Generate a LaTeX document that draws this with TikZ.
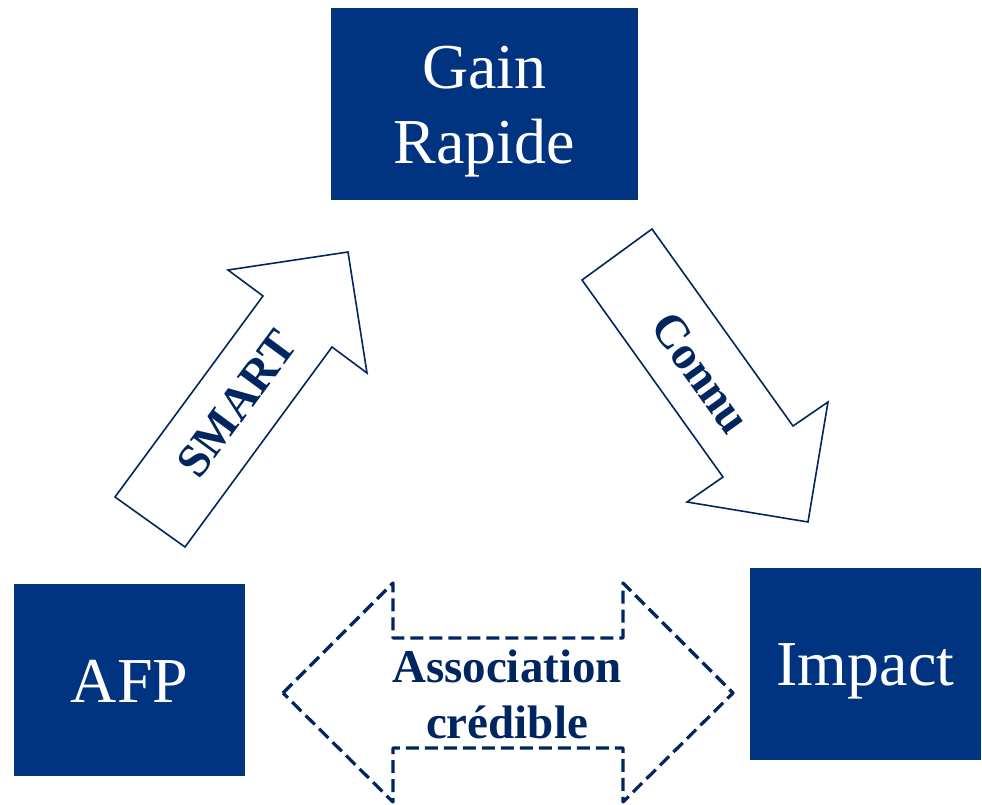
\documentclass[tikz,border=0pt]{standalone}
\usepackage{fontspec}
\setmainfont{Liberation Serif}
\usepackage{tikz}
\definecolor{boxblue}{RGB}{0,51,128}
\definecolor{inkblue}{RGB}{0,38,96}

\begin{document}
\begin{tikzpicture}
	[x=1pt, y=-1pt,
	 bloc/.style={rectangle, fill=boxblue, inner sep=0pt, minimum height=192pt},
	 bloctexte/.style={text=white, align=center, inner sep=0pt,
	   font=\fontsize{64}{75}\selectfont},
	 fleche/.style={draw=inkblue, line width=1.6pt, fill=white, line join=miter},
	 pointille/.style={draw=inkblue, line width=3.2pt, dash pattern=on 13pt off 6pt, line join=round},
	 mot/.style={text=inkblue, align=center, inner sep=0pt,
	   font=\bfseries\fontsize{47}{56}\selectfont}]
   \useasboundingbox (0,0) rectangle (982,805);
   % the three boxes
   \node[bloc, minimum width=307pt] (gain) at (484.5,104) {};
   \node[bloctexte] (gaintxt) at (484.5,112) {Gain\\Rapide};
   \node[bloc, minimum width=231pt] (afp) at (129.5,680) {};
   \node[bloctexte] (afptxt) at (129.5,681) {AFP};
   \node[bloc, minimum width=231pt] (impact) at (865.5,664) {};
   \node[bloctexte] (impacttxt) at (865.5,671) {Impact};
   % SMART arrow
   \draw[fleche] (115,497) -- (263,296) -- (228,270) -- (348,252)
       -- (367,373) -- (332,347) -- (185,547) -- cycle;
   \node[mot, rotate=53.6] (smart) at (237,404) {SMART};
   % Connu arrow
   \draw[fleche] (582,280) -- (652,229) -- (793,426) -- (828,402)
       -- (808,522) -- (687,502) -- (723,477) -- cycle;
   \node[mot, rotate=-54.4] (connu) at (701,373) {Connu};
   % double arrow
   \draw[pointille] (283,693) -- (393,583) -- (393,638) -- (623,638) -- (623,583)
       -- (733,693) -- (623,802) -- (623,748) -- (393,748) -- (393,802) -- cycle;
   \node[mot] (assoc) at (507,694) {Association\\crédible};
\end{tikzpicture}
\end{document}
